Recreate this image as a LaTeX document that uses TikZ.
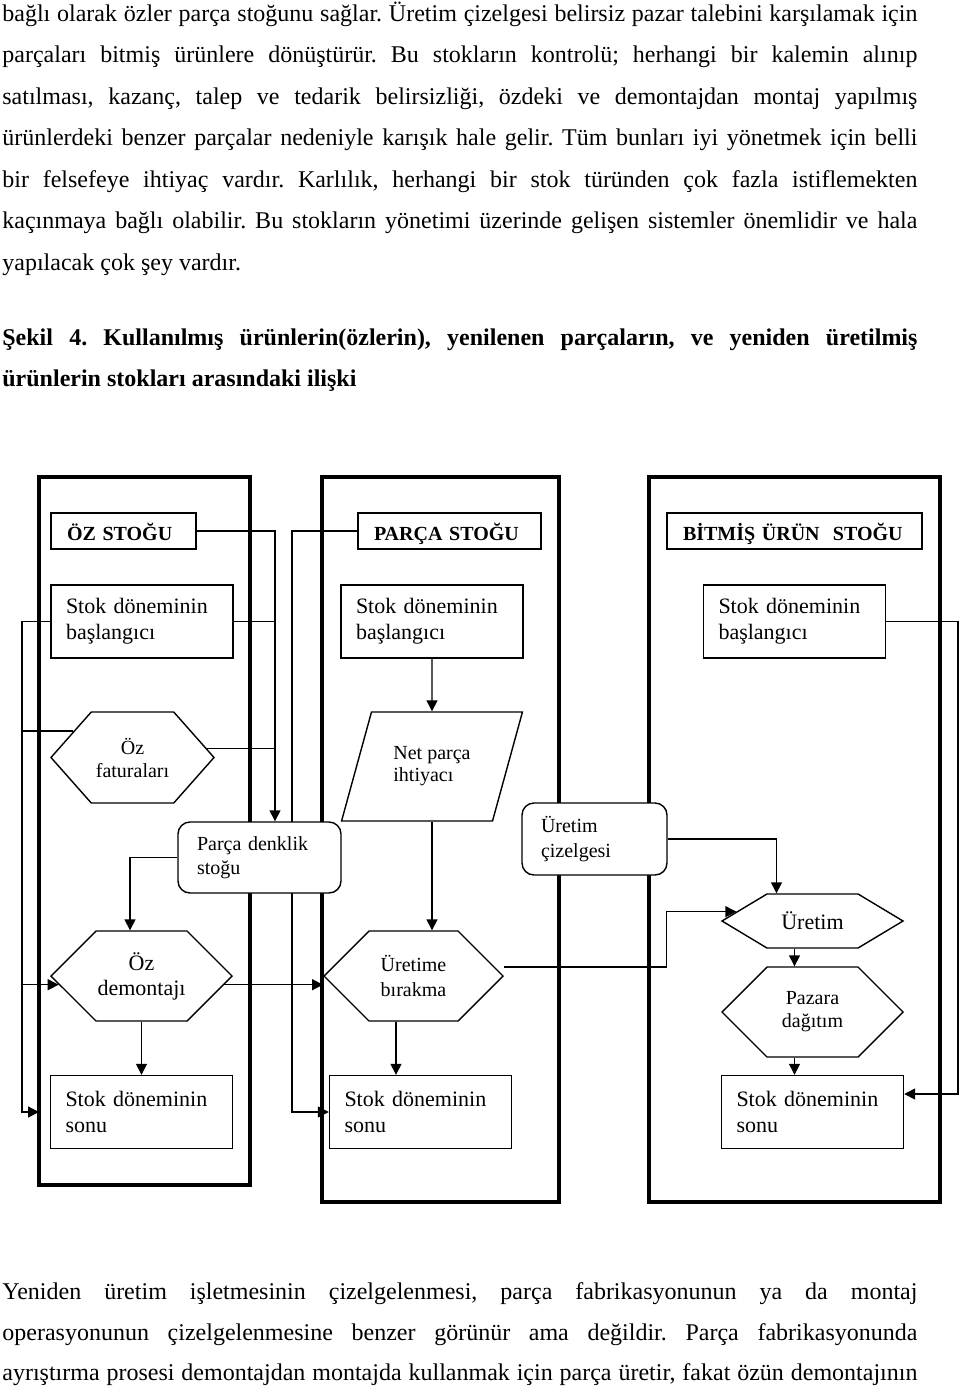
\documentclass[tikz,border=0pt]{standalone}
\usepackage{fontspec}
\setmainfont{Liberation Serif}
\usetikzlibrary{shapes.symbols,shapes.geometric,arrows.meta,backgrounds}

\newcommand\fullline[1]{\makebox[457.5pt][s]{#1}}

\tikzset{
  textline/.style={anchor=base west, inner sep=0pt, font=\fontsize{12}{14}\selectfont},
  stockframe/.style={draw, line width=1.6pt, inner sep=0pt, outer sep=0pt, minimum height=362.5pt},
  titlebox/.style={draw, fill=white, line width=0.7pt, minimum height=18pt, text height=9.5pt, text depth=0.5pt, inner xsep=8pt, align=left, font=\bfseries\fontsize{10}{12}\selectfont},
  stokbox/.style={draw, fill=white, line width=0.7pt, minimum height=36.5pt, text width=76pt, inner xsep=7.5pt, align=left, font=\fontsize{11}{13}\selectfont},
  roundbox/.style={draw, fill=white, line width=0.7pt, rounded corners=6pt, inner xsep=9.5pt, align=left, font=\fontsize{10}{12}\selectfont},
  hexa/.style={draw, fill=white, line width=0.7pt, signal, signal to=east and west, signal from=nowhere, minimum width=90.5pt, minimum height=45pt, inner sep=0pt, align=center, font=\fontsize{10}{12}\selectfont},
  wire/.style={line width=0.7pt},
  flow/.style={wire, -{Triangle[length=5.5pt,width=5.5pt]}},
}

\begin{document}
\frenchspacing
\begin{tikzpicture}[x=0.5pt, y=-0.5pt]
  \useasboundingbox (0,0) rectangle (960,1390);
  \path[textline]
    (2,21.7) node (t1) {\fullline{bağlı olarak özler parça stoğunu sağlar. Üretim çizelgesi belirsiz pazar talebini karşılamak için}}
    (2,63) node (t2) {\fullline{parçaları bitmiş ürünlere dönüştürür. Bu stokların kontrolü; herhangi bir kalemin alınıp}}
    (2,104.5) node (t3) {\fullline{satılması, kazanç, talep ve tedarik belirsizliği, özdeki ve demontajdan montaj yapılmış}}
    (2,146) node (t4) {\fullline{ürünlerdeki benzer parçalar nedeniyle karışık hale gelir. Tüm bunları iyi yönetmek için belli}}
    (2,187.5) node (t5) {\fullline{bir felsefeye ihtiyaç vardır. Karlılık, herhangi bir stok türünden çok fazla istiflemekten}}
    (2,229) node (t6) {\fullline{kaçınmaya bağlı olabilir. Bu stokların yönetimi üzerinde gelişen sistemler önemlidir ve hala}}
    (2,270.5) node (t7) {yapılacak çok şey vardır.}
    (2,345) node[font=\bfseries\fontsize{12}{14}\selectfont] (cap1) {\fullline{Şekil 4. Kullanılmış ürünlerin(özlerin), yenilenen parçaların, ve yeniden üretilmiş}}
    (2,386) node[font=\bfseries\fontsize{12}{14}\selectfont] (cap2) {ürünlerin stokları arasındaki ilişki}
    (2,1299) node (b1) {\fullline{Yeniden üretim işletmesinin çizelgelenmesi, parça fabrikasyonunun ya da montaj}}
    (2,1340) node (b2) {\fullline{operasyonunun çizelgelenmesine benzer görünür ama değildir. Parça fabrikasyonunda}}
    (2,1380) node (b3) {\fullline{ayrıştırma prosesi demontajdan montajda kullanmak için parça üretir, fakat özün demontajının}};

  \path
    (123.5,531) node[titlebox, text width=56.5pt] (ozStogu) {ÖZ STOĞU}
    (449.5,531) node[titlebox, text width=75.5pt] (parcaStogu) {PARÇA STOĞU}
    (794.5,531) node[titlebox, text width=111.5pt] (bitStogu) {BİTMİŞ ÜRÜN\ \ STOĞU};
  \path[every node/.style={stokbox}]
    (142,621.5) node (ozBas) {Stok döneminin\\başlangıcı}
    (432,621.5) node (parBas) {Stok döneminin\\başlangıcı}
    (794.5,621.5) node (bitBas) {Stok döneminin\\başlangıcı}
    (141.5,1112) node (ozSonu) {Stok döneminin\\sonu}
    (420.5,1112) node (parSonu) {Stok döneminin\\sonu}
    (812.5,1112) node (bitSonu) {Stok döneminin\\sonu};
  \path
    (132.5,757.5) node[hexa, minimum width=81.5pt, minimum height=45.5pt, signal pointer angle=97, font=\fontsize{10}{11.5}\selectfont] (ozFat) {Öz\\faturaları}
    (432,766.5) node[draw, fill=white, line width=0.7pt, trapezium, trapezium left angle=67, trapezium right angle=113, trapezium stretches=true, minimum width=91pt, minimum height=54.5pt, align=left, font=\fontsize{10}{11}\selectfont] (netParca) {Net parça\\ihtiyacı}
    (259.5,857.5) node[roundbox, text width=62.5pt, minimum height=35.5pt] (parcaDenklik) {Parça denklik\\stoğu}
    (594.5,839) node[roundbox, text width=53.5pt, minimum height=36pt, font=\fontsize{10}{12.5}\selectfont] (cizelge) {Üretim\\çizelgesi}
    (141.5,976) node[hexa, font=\fontsize{11}{12.5}\selectfont] (ozDem) {Öz\\demontajı}
    (413.5,976) node[hexa, minimum width=89.5pt, font=\fontsize{10}{12.5}\selectfont] (urBir) {Üretime\\bırakma}
    (812.5,921) node[hexa, minimum height=27pt, signal pointer angle=62, font=\fontsize{11}{13}\selectfont] (uretim) {Üretim}
    (812.5,1012) node[hexa, font=\fontsize{10}{11.5}\selectfont] (pazara) {Pazara\\dağıtım};

  \begin{scope}[on background layer]
    \path[every node/.style={stockframe}]
      (144.5,831) node[minimum width=105.5pt, minimum height=354pt] (colOz) {}
      (440.5,839.5) node[minimum width=118.5pt] (colParca) {}
      (794.5,839.5) node[minimum width=145.5pt] (colBitmis) {};
    \coordinate (railL) at (22,0);
    \coordinate (railR) at (958,0);
    \coordinate (ozIn) at ([xshift=7.75pt]parcaDenklik.north);
    \coordinate (urOut) at ([xshift=-8.75pt]urBir.south);
    \coordinate (uretimOut) at ([xshift=-9pt]uretim.south);
    \coordinate (pazaraOut) at ([xshift=-9pt]pazara.south);
    \coordinate (bitIn) at ([yshift=9pt]bitSonu.east);

    \draw[flow] (ozStogu.east) -| (ozIn);
    \draw[wire] (ozBas.east) -- (ozIn |- ozBas.east);
    \draw[wire] (ozFat.7) -- (ozIn |- ozFat.7);
    \draw[flow] (ozBas.west) -| (railL |- ozSonu.west) -- (colOz.west |- ozSonu.west);
    \draw[wire] (railL |- ozFat.156) -- (ozFat.156);
    \draw[flow] (railL |- ozDem.186) -- (ozDem.186);
    \draw[flow] (parcaDenklik.west) -| ([xshift=-5.75pt]ozDem.north);
    \draw[flow] (ozDem.south) -- (ozSonu.north);
    \draw[flow] (ozDem.-6) -- (urBir.west |- ozDem.-6);

    \draw[flow] (parcaStogu.west) -| ([xshift=-18.5pt]parSonu.west) -- (parSonu.west);
    \draw[flow] (parBas.south) -- (netParca.north);
    \draw[flow] (netParca.south) -- (netParca.south |- urBir.north);
    \draw[flow] (urOut) -- (urOut |- parSonu.north);
    \draw[flow] ([yshift=4.5pt]urBir.east) -| ([xshift=-35pt]uretim.173) -- (uretim.173);

    \draw[flow] (cizelge.east) -| ([xshift=-18pt]uretim.north);
    \draw[flow] (uretimOut) -- (uretimOut |- pazara.north);
    \draw[flow] (pazaraOut) -- (pazaraOut |- bitSonu.north);
    \draw[flow] (bitBas.east) -| (railR |- bitIn) -- (bitIn);
  \end{scope}
\end{tikzpicture}
\end{document}
